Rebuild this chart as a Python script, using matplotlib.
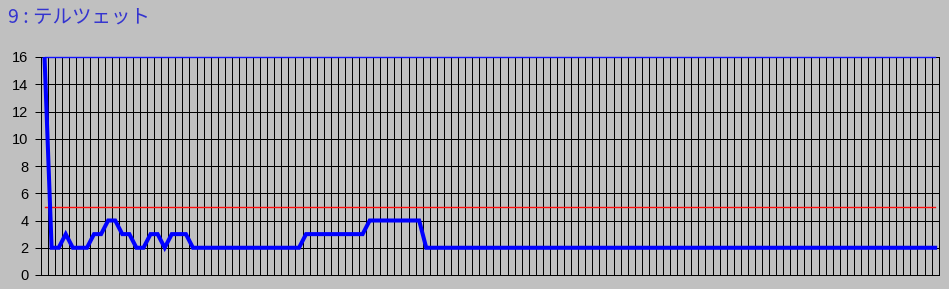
import numpy as np
import matplotlib.pyplot as plt

plt.rcParams["font.family"] = ["Noto Sans CJK JP", "DejaVu Sans"]

# ----------------------------
# Data
# ----------------------------
title_text = "9 : テルツェット"

# one value per category (127 categories)
series_values = [
    16, 2, 2, 3, 2, 2, 2, 3, 3, 4, 4, 3, 3, 2, 2, 3, 3, 2, 3, 3,
    3, 2, 2, 2, 2, 2, 2, 2, 2, 2, 2, 2, 2, 2, 2, 2, 2, 3, 3, 3,
    3, 3, 3, 3, 3, 3, 4, 4, 4, 4, 4, 4, 4, 4, 2, 2, 2, 2, 2, 2,
    2, 2, 2, 2, 2, 2, 2, 2, 2, 2, 2, 2, 2, 2, 2, 2, 2, 2, 2, 2,
    2, 2, 2, 2, 2, 2, 2, 2, 2, 2, 2, 2, 2, 2, 2, 2, 2, 2, 2, 2,
    2, 2, 2, 2, 2, 2, 2, 2, 2, 2, 2, 2, 2, 2, 2, 2, 2, 2, 2, 2,
    2, 2, 2, 2, 2, 2, 2,
]
upper_level = 16
lower_level = 5
y_ticks = [0, 2, 4, 6, 8, 10, 12, 14, 16]

bg = "#C0C0C0"

fig = plt.figure(figsize=(9.49, 2.89), dpi=100, facecolor=bg)
ax = fig.add_axes([41 / 949, 14 / 289, 897.7 / 949, 218 / 289])
ax.set_facecolor(bg)

n = len(series_values)
x = np.arange(n)

# category boundary gridlines
for b in np.arange(n + 1) - 0.5:
    ax.axvline(b, color="black", lw=0.72, antialiased=False, zorder=1)
for yt in y_ticks:
    ax.axhline(yt, color="black", lw=0.72, antialiased=False, zorder=1)

ax.plot([x[0], x[-1]], [lower_level, lower_level], color="#FF1010", lw=1.0,
        zorder=2)
ax.plot([x[0], x[-1]], [upper_level, upper_level], color="#1010FF", lw=1.0,
        zorder=2, clip_on=False)
ax.plot(x, series_values, color="#0000FF", lw=2.9, solid_joinstyle="miter",
        zorder=3)

ax.set_xlim(-0.5, n - 0.5)
ax.set_ylim(0, 16)
ax.set_xticks([])
ax.set_yticks(y_ticks)
ax.set_yticklabels([str(v) for v in y_ticks], family=["Liberation Sans"], fontsize=10.5)
ax.tick_params(axis="y", length=4, width=0.72, color="black", pad=5)

ax.spines["top"].set_visible(False)
for s in ("left", "right", "bottom"):
    ax.spines[s].set_color("black")
    ax.spines[s].set_linewidth(0.72)

fig.text(8 / 949, 1 - 17 / 289, title_text, color="#3434D0", fontsize=14,
         ha="left", va="center")

fig.savefig("out.png", dpi=100, facecolor=bg)
